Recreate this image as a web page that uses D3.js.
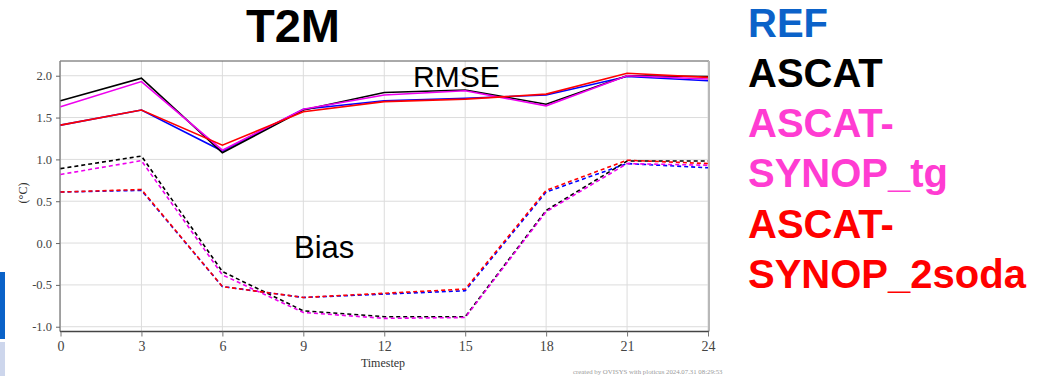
<!DOCTYPE html>
<html>
<head>
<meta charset="utf-8">
<script src="https://cdn.jsdelivr.net/npm/d3@7"></script>
<style>
  html, body { margin: 0; padding: 0; background: #fff; }
  svg { display: block; }
</style>
</head>
<body>
<svg id="chart" width="1047" height="376"></svg>
<script>
// Forecast timesteps (hours)
const timesteps = [0, 3, 6, 9, 12, 15, 18, 21, 24];

// RMSE of 2 m temperature (°C) per experiment
const rmseREF   = [1.41, 1.59, 1.10, 1.60, 1.70, 1.73, 1.77, 1.99, 1.94];
const rmseASCAT = [1.70, 1.97, 1.08, 1.59, 1.80, 1.83, 1.66, 2.00, 1.99];
const rmseTg    = [1.63, 1.93, 1.11, 1.60, 1.77, 1.82, 1.64, 2.00, 1.96];
const rmse2soda = [1.41, 1.59, 1.17, 1.57, 1.69, 1.72, 1.78, 2.03, 1.98];

// Bias of 2 m temperature (°C) per experiment
const biasREF   = [0.61, 0.63, -0.52, -0.65, -0.61, -0.57, 0.61, 0.95, 0.90];
const biasASCAT = [0.89, 1.04, -0.34, -0.81, -0.88, -0.88, 0.39, 0.98, 0.98];
const biasTg    = [0.82, 0.985, -0.38, -0.83, -0.90, -0.89, 0.375, 0.95, 0.93];
const bias2soda = [0.61, 0.64, -0.52, -0.65, -0.60, -0.55, 0.63, 0.99, 0.95];

const experiments = ["REF", "ASCAT", "ASCAT-SYNOP_tg", "ASCAT-SYNOP_2soda"];
const yTicks = [-1.0, -0.5, 0.0, 0.5, 1.0, 1.5, 2.0];

const lineColor = { "REF": "#0000ff", "ASCAT": "#000000", "ASCAT-SYNOP_tg": "#ee00ee", "ASCAT-SYNOP_2soda": "#ff0000" };
const legendColor = { "REF": "#0b62c9", "ASCAT": "#000000", "ASCAT-SYNOP_tg": "#ff3cd2", "ASCAT-SYNOP_2soda": "#ff0000" };

const series = [
  { name: "REF", rmse: rmseREF, bias: biasREF },
  { name: "ASCAT", rmse: rmseASCAT, bias: biasASCAT },
  { name: "ASCAT-SYNOP_tg", rmse: rmseTg, bias: biasTg },
  { name: "ASCAT-SYNOP_2soda", rmse: rmse2soda, bias: bias2soda }
];

const svg = d3.select("#chart");
svg.append("rect").attr("width", 1047).attr("height", 376).attr("fill", "#fff");

const plot = { left: 60, right: 709, top: 61, bottom: 331.5 };

const x = d3.scaleLinear().domain([0, 24]).range([60.5, 708]);
const y = d3.scaleLinear().domain([-1.057, 2.176]).range([plot.bottom, plot.top]);

// grid
const g = svg.append("g");
g.selectAll("line.vgrid").data(timesteps).join("line")
  .attr("x1", d => x(d)).attr("x2", d => x(d))
  .attr("y1", plot.top).attr("y2", plot.bottom)
  .attr("stroke", "#dcdcdc").attr("stroke-width", 1);
g.selectAll("line.hgrid").data(yTicks).join("line")
  .attr("x1", plot.left).attr("x2", plot.right)
  .attr("y1", d => y(d)).attr("y2", d => y(d))
  .attr("stroke", "#dcdcdc").attr("stroke-width", 1);

// frame
g.append("line").attr("x1", plot.left).attr("x2", plot.right).attr("y1", plot.top).attr("y2", plot.top)
  .attr("stroke", "#555").attr("stroke-width", 1);
g.append("line").attr("x1", plot.right).attr("x2", plot.right).attr("y1", plot.top).attr("y2", plot.bottom)
  .attr("stroke", "#b8b8b8").attr("stroke-width", 2);

// axes
const fmt = v => d3.format(".1f")(v).replace("\u2212", "-");
const yAxis = d3.axisLeft(y).tickValues(yTicks).tickFormat(fmt).tickSize(4).tickPadding(4);
const xAxis = d3.axisBottom(x).tickValues(timesteps).tickFormat(d3.format("d")).tickSize(5).tickPadding(5);

const ya = svg.append("g").attr("transform", `translate(${plot.left},0)`).call(yAxis);
ya.select(".domain").attr("d", `M0,${plot.top}V${plot.bottom}`).attr("stroke", "#8a8a8a").attr("stroke-width", 1.5);
ya.selectAll(".tick line").attr("stroke", "#666");
ya.selectAll(".tick text").attr("font-family", "'Liberation Serif', serif").attr("font-size", 12.5).attr("fill", "#444");

const xa = svg.append("g").attr("transform", `translate(0,${plot.bottom})`).call(xAxis);
xa.select(".domain").attr("d", `M${plot.left},0H${plot.right}`).attr("stroke", "#444").attr("stroke-width", 1.5);
xa.selectAll(".tick line").attr("stroke", "#777");
xa.selectAll(".tick text").attr("font-family", "'Liberation Serif', serif").attr("font-size", 14).attr("fill", "#444");

// axis titles
svg.append("text").attr("x", 383).attr("y", 367).attr("text-anchor", "middle")
  .attr("font-family", "'Liberation Serif', serif").attr("font-size", 12).attr("fill", "#333").text("Timestep");
svg.append("text").attr("transform", "translate(27,193) rotate(-90)").attr("text-anchor", "middle")
  .attr("font-family", "'Liberation Serif', serif").attr("font-size", 12).attr("fill", "#333").text("(°C)");

// lines
const line = key => d3.line().x((d, i) => x(timesteps[i])).y(d => y(d))(key);
const lines = svg.append("g").attr("fill", "none");
series.forEach(s => {
  lines.append("path").attr("d", line(s.rmse))
    .attr("stroke", lineColor[s.name]).attr("stroke-width", 1.6).attr("stroke-linejoin", "miter");
});
series.forEach(s => {
  lines.append("path").attr("d", line(s.bias))
    .attr("stroke", lineColor[s.name]).attr("stroke-width", 1.6).attr("stroke-dasharray", "4,3");
});

// annotations
svg.append("text").attr("x", 413).attr("y", 87).attr("font-family", "'Liberation Sans', Arial, sans-serif")
  .attr("font-size", 30).attr("fill", "#000").text("RMSE");
svg.append("text").attr("x", 294).attr("y", 258).attr("font-family", "'Liberation Sans', Arial, sans-serif")
  .attr("font-size", 31).attr("fill", "#000").text("Bias");

// title
svg.append("text").attr("x", 293).attr("y", 42).attr("text-anchor", "middle")
  .attr("font-family", "'Liberation Sans', Arial, sans-serif").attr("font-weight", "bold")
  .attr("font-size", 47).attr("fill", "#000").text("T2M");

// legend
const legendLines = [
  { text: "REF", key: "REF" },
  { text: "ASCAT", key: "ASCAT" },
  { text: "ASCAT-", key: "ASCAT-SYNOP_tg" },
  { text: "SYNOP_tg", key: "ASCAT-SYNOP_tg" },
  { text: "ASCAT-", key: "ASCAT-SYNOP_2soda" },
  { text: "SYNOP_2soda", key: "ASCAT-SYNOP_2soda" }
];
svg.append("g").selectAll("text").data(legendLines).join("text")
  .attr("x", 748).attr("y", (d, i) => 36.5 + i * 50.3)
  .attr("font-family", "'Liberation Sans', Arial, sans-serif").attr("font-weight", "bold")
  .attr("font-size", 40).attr("fill", d => legendColor[d.key]).text(d => d.text);

// side tabs
svg.append("rect").attr("x", 0).attr("y", 272).attr("width", 5).attr("height", 67).attr("fill", "#0a62c8");
svg.append("rect").attr("x", 0).attr("y", 342).attr("width", 5).attr("height", 34).attr("fill", "#cdd6ec");

// credit line
svg.append("text").attr("x", 573).attr("y", 374).attr("font-family", "'Liberation Serif', serif")
  .attr("font-size", 6.8).attr("fill", "#9a9a9a").text("created by OVISYS with ploticus 2024.07.31 08:29:53");
</script>
</body>
</html>
